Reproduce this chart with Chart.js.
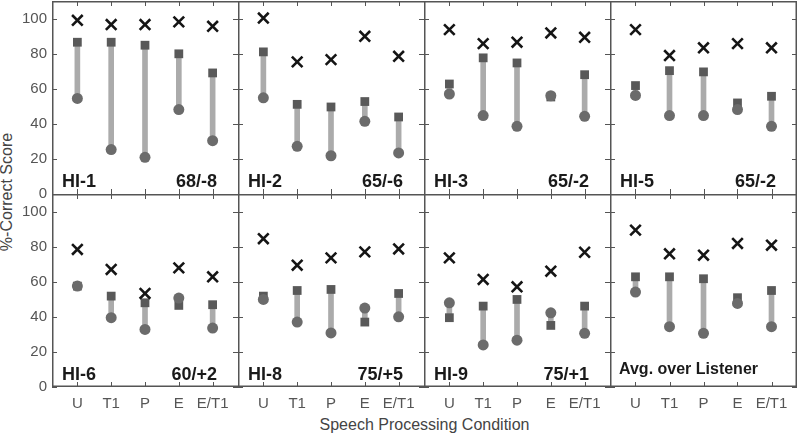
<!DOCTYPE html>
<html>
<head>
<meta charset="utf-8">
<script src="https://cdn.jsdelivr.net/npm/chart.js@4.4.0/dist/chart.umd.min.js"></script>
<style>
    body { margin: 0; background: #fff; }
    #wrap { position: relative; width: 798px; height: 434px; overflow: hidden; font-family: "Liberation Sans", Arial, sans-serif; }
    canvas { position: absolute; }
    .title { position: absolute; color: #444; font-size: 16px; line-height: 18px; white-space: nowrap; text-align: center; }
    #xtitle { left: 52px; width: 745px; top: 416px; }
    #ytitle { left: -93px; width: 200px; top: 183px; transform: rotate(-90deg); }
</style>
</head>
<body>
<div id="wrap">
    <div class="title" id="xtitle">Speech Processing Condition</div>
    <div class="title" id="ytitle">%-Correct Score</div>
</div>
<script>
        // Dados
        const conditions = ['U', 'T1', 'P', 'E', 'E/T1'];
        const yTicks = [0, 20, 40, 60, 80, 100];
        const listeners = ['HI-1', 'HI-2', 'HI-3', 'HI-5', 'HI-6', 'HI-8', 'HI-9', 'Avg. over Listener'];
        const levels = ['68/-8', '65/-6', '65/-2', '65/-2', '60/+2', '75/+5', '75/+1', ''];

        // X markers
        const crossScores = [
            [99, 96.6, 96.6, 98.1, 95.6],
            [100.3, 75.3, 76.6, 89.9, 78.5],
            [93.7, 85.7, 86.5, 91.8, 89.3],
            [93.7, 78.9, 83.3, 85.7, 83.3],
            [78.4, 67, 53.3, 67.9, 62.8],
            [84.5, 69.4, 73.6, 77, 78.7],
            [73.6, 61.3, 57.1, 66, 76.8],
            [89.4, 75.9, 75.1, 81.8, 80.8]
        ];
        // quadrados
        const squareScores = [
            [86.5, 86.5, 84.8, 79.9, 69],
            [81, 51.1, 49.6, 52.7, 43.9],
            [62.7, 77.6, 74.7, 55.3, 68],
            [61.8, 70.3, 69.6, 51.9, 55.7],
            [57.5, 51.8, 48, 46.5, 46.9],
            [51.8, 55, 55.6, 37, 53.3],
            [39.5, 46.1, 49.9, 35.1, 46.1],
            [62.8, 62.8, 61.7, 50.9, 55]
        ];
        // círculos
        const circleScores = [
            [54.5, 25.3, 20.9, 48.1, 30.4],
            [54.8, 27.2, 21.8, 41.4, 23.4],
            [57, 44.7, 38.6, 56, 44.3],
            [56.2, 44.7, 44.7, 48.1, 38.6],
            [57.5, 39.5, 32.8, 50.7, 33.6],
            [49.9, 37, 30.8, 45, 40],
            [48, 24, 26.7, 42.3, 30.6],
            [54.1, 34.4, 30.6, 47.6, 34.4]
        ];

        // Layout dos painéis
        const colLeft = [52, 238, 424, 610];
        const colWidth = [186, 186, 186, 187];
        const rowTop = [1, 194];
        const rowHeight = [193, 193];
        const yAxisWidth = 52;
        const xAxisHeight = 31;
        const FONT = '"Liberation Sans", Arial, sans-serif';

        // Moldura, ticks internos e rótulos do painel
        const panelDecor = {
            id: 'panelDecor',
            afterDraw(chart, args, opts) {
                const { ctx, chartArea: a, scales: { x, y } } = chart;
                ctx.save();
                ctx.strokeStyle = '#555';
                ctx.lineWidth = 1;
                ctx.beginPath();
                conditions.forEach((c, k) => {
                    const px = Math.round(x.getPixelForValue(k + 1)) + 0.5;
                    ctx.moveTo(px, a.top); ctx.lineTo(px, a.top + 5);
                    ctx.moveTo(px, a.bottom); ctx.lineTo(px, a.bottom - 5);
                });
                yTicks.forEach(v => {
                    const py = Math.round(y.getPixelForValue(v)) + 0.5;
                    ctx.moveTo(a.left, py); ctx.lineTo(a.left + 5, py);
                    ctx.moveTo(a.right, py); ctx.lineTo(a.right - 5, py);
                });
                ctx.stroke();

                ctx.lineWidth = 1.5;
                ctx.beginPath();
                ctx.moveTo(a.left + 0.75, a.top); ctx.lineTo(a.left + 0.75, a.bottom);
                ctx.moveTo(a.left, a.top + 0.75); ctx.lineTo(a.right, a.top + 0.75);
                if (opts.lastCol) { ctx.moveTo(a.right - 0.75, a.top); ctx.lineTo(a.right - 0.75, a.bottom); }
                if (opts.bottomRow) { ctx.moveTo(a.left, a.bottom - 0.75); ctx.lineTo(a.right, a.bottom - 0.75); }
                ctx.stroke();

                ctx.fillStyle = '#1a1a1a';
                ctx.textBaseline = 'alphabetic';
                if (opts.level) {
                    ctx.font = `bold 18px ${FONT}`;
                    ctx.textAlign = 'left';
                    ctx.fillText(opts.name, a.left + 10, a.bottom - 7);
                    ctx.textAlign = 'right';
                    ctx.fillText(opts.level, a.right - 21, a.bottom - 7);
                } else {
                    ctx.font = `bold 16px ${FONT}`;
                    ctx.textAlign = 'left';
                    ctx.fillText(opts.name, a.left + 9, a.bottom - 13);
                }
                ctx.restore();
            }
        };

        const wrap = document.getElementById('wrap');

        listeners.forEach((name, i) => {
            const col = i % 4;
            const row = Math.floor(i / 4);
            const hasY = col === 0;
            const hasX = row === 1;
            // espaço extra para o rótulo "0" do painel de cima
            const extraBottom = hasY && !hasX ? 8 : 0;

            const canvas = document.createElement('canvas');
            const w = colWidth[col] + (hasY ? yAxisWidth : 0);
            const h = rowHeight[row] + (hasX ? xAxisHeight : 0) + extraBottom;
            canvas.width = w;
            canvas.height = h;
            canvas.style.width = w + 'px';
            canvas.style.height = h + 'px';
            canvas.style.left = (hasY ? 0 : colLeft[col]) + 'px';
            canvas.style.top = rowTop[row] + 'px';
            if (extraBottom) canvas.style.zIndex = 2;
            wrap.appendChild(canvas);

            const bars = conditions.map((c, k) => ({
                x: k + 1,
                y: [Math.min(circleScores[i][k], squareScores[i][k]), Math.max(circleScores[i][k], squareScores[i][k])]
            }));

            new Chart(canvas.getContext('2d'), {
                type: 'scatter',
                data: {
                    datasets: [
                        {
                            data: crossScores[i].map((v, k) => ({ x: k + 1, y: v })),
                            pointStyle: 'crossRot',
                            pointRadius: 7.5,
                            borderColor: '#151515',
                            pointBorderWidth: 2.6,
                            order: 0
                        },
                        {
                            data: circleScores[i].map((v, k) => ({ x: k + 1, y: v })),
                            pointStyle: 'circle',
                            pointRadius: 5.5,
                            backgroundColor: '#6b6b6b',
                            pointBorderWidth: 0,
                            order: 1
                        },
                        {
                            data: squareScores[i].map((v, k) => ({ x: k + 1, y: v })),
                            pointStyle: 'rect',
                            pointRadius: 6.2,
                            backgroundColor: '#595959',
                            pointBorderWidth: 0,
                            order: 2
                        },
                        {
                            type: 'bar',
                            data: bars,
                            backgroundColor: '#ababab',
                            borderWidth: 0,
                            barThickness: 5,
                            order: 3
                        }
                    ]
                },
                options: {
                    responsive: false,
                    animation: false,
                    devicePixelRatio: 1,
                    events: [],
                    layout: { padding: { top: 0, left: 0, right: 0, bottom: extraBottom }, autoPadding: false },
                    plugins: {
                        legend: { display: false },
                        tooltip: { enabled: false },
                        panelDecor: { name: name, level: levels[i], lastCol: col === 3, bottomRow: hasX }
                    },
                    scales: {
                        x: {
                            type: 'linear',
                            min: 0.25,
                            max: 5.75,
                            offset: false,
                            display: hasX,
                            grid: { display: false, drawTicks: false },
                            border: { display: false },
                            afterBuildTicks: s => { s.ticks = conditions.map((c, k) => ({ value: k + 1 })); },
                            afterFit: s => {
                                if (!hasX) return;
                                s.height = xAxisHeight;
                                s.paddingLeft = 0;
                                s.paddingRight = 0;
                            },
                            ticks: {
                                autoSkip: false,
                                maxRotation: 0,
                                padding: 8,
                                color: '#555',
                                font: { family: FONT, size: 15 },
                                callback: v => conditions[v - 1] || ''
                            }
                        },
                        y: {
                            min: 0,
                            max: 110,
                            display: hasY,
                            grid: { display: false, drawTicks: false },
                            border: { display: false },
                            afterBuildTicks: s => { s.ticks = yTicks.map(v => ({ value: v })); },
                            afterFit: s => {
                                if (!hasY) return;
                                s.width = yAxisWidth;
                                s.paddingTop = 0;
                                s.paddingBottom = 0;
                            },
                            ticks: {
                                padding: 5,
                                color: '#555',
                                font: { family: FONT, size: 15 }
                            }
                        }
                    }
                },
                plugins: [panelDecor]
            });
        });
</script>
</body>
</html>
